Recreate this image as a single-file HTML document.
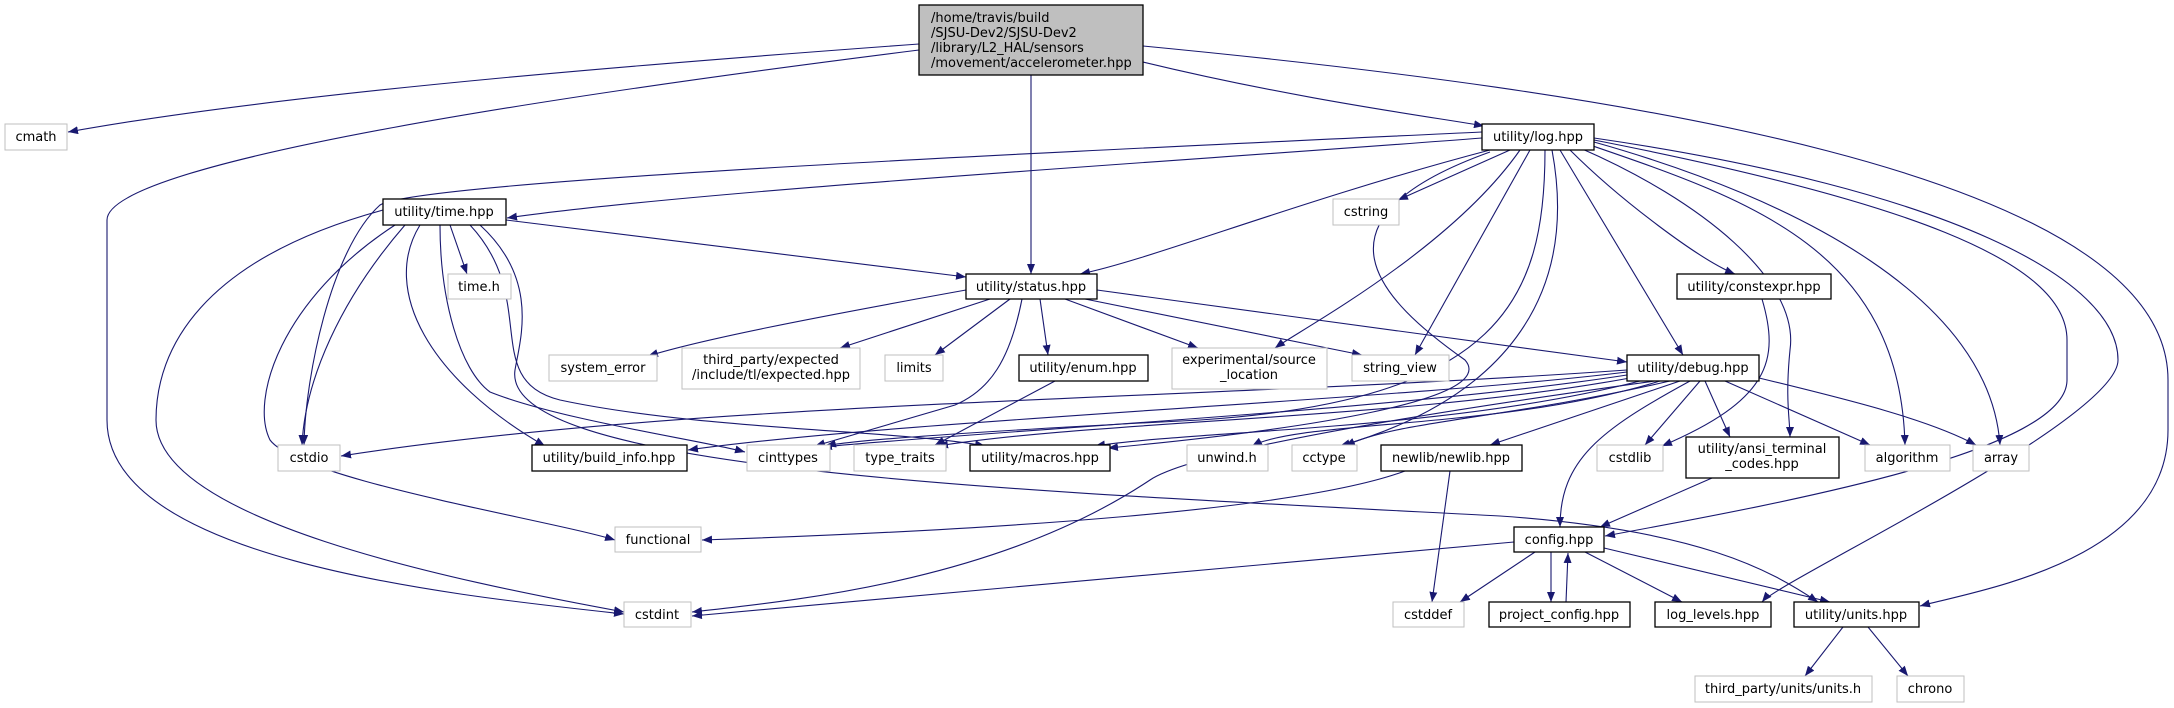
<!DOCTYPE html>
<html><head><meta charset="utf-8"><style>
html,body{margin:0;padding:0;background:#fff;}
svg{display:block;}
text{font-family:"DejaVu Sans","Liberation Sans",sans-serif;font-size:13px;fill:#000;}
.e{fill:none;stroke:#191970;stroke-width:1.1;marker-end:url(#a);}
.d{fill:#fff;stroke:#000;stroke-width:1.3;}
.x{fill:#fff;stroke:#bfbfbf;stroke-width:1;}
</style></head><body>
<svg width="2174" height="708" viewBox="0 0 2174 708" xmlns="http://www.w3.org/2000/svg">
<defs><marker id="a" markerWidth="10" markerHeight="8" refX="10" refY="4" orient="auto" markerUnits="userSpaceOnUse"><path d="M0,0 L10,4 L0,8 z" fill="#191970"/></marker></defs>
<g>
<path class="e" d="M919,44 C700,60 300,90 68,132"/>
<path class="e" d="M919,50 C600,90 107,160 107,220 L107,420 C107,560 450,595 624,614"/>
<path class="e" d="M1031,75 L1031,274"/>
<path class="e" d="M1143,62 C1300,100 1440,118 1484,126"/>
<path class="e" d="M1143,46 C1600,90 2168,170 2168,380 L2168,430 C2168,560 1980,590 1920,606"/>
<path class="e" d="M1482,138 C1200,160 700,190 507,218"/>
<path class="e" d="M1482,132 C1100,150 420,180 380,205 C330,250 305,380 304,445"/>
<path class="e" d="M1490,150 C1300,200 1150,260 1080,274"/>
<path class="e" d="M1510,150 L1398,200"/>
<path class="e" d="M1520,150 C1450,250 1300,330 1275,348"/>
<path class="e" d="M1530,150 L1415,355"/>
<path class="e" d="M1490,152 C1300,220 1380,300 1465,360 C1500,400 1300,430 1108,448"/>
<path class="e" d="M1545,150 C1545,300 1500,400 1200,420 C1000,430 850,440 826,446"/>
<path class="e" d="M1552,150 C1580,300 1500,400 1340,446"/>
<path class="e" d="M1560,150 L1683,355"/>
<path class="e" d="M1570,150 C1620,200 1700,260 1735,274"/>
<path class="e" d="M1580,148 C1700,200 1800,280 1790,350 C1785,400 1790,420 1790,437"/>
<path class="e" d="M1590,145 C1750,200 1900,250 1905,445"/>
<path class="e" d="M1594,142 C1800,200 1990,300 2000,445"/>
<path class="e" d="M1594,140 C1900,200 2067,260 2067,340 L2067,380 C2067,450 1800,500 1605,536"/>
<path class="e" d="M1594,138 C1950,190 2118,280 2118,360 C2118,420 1780,580 1762,602"/>
<path class="e" d="M1762,299 C1780,360 1770,400 1662,446"/>
<path class="e" d="M506,220 L966,277"/>
<path class="e" d="M450,225 L467,274"/>
<path class="e" d="M405,225 C340,300 305,380 302,445"/>
<path class="e" d="M383,210 C200,260 156,350 156,420 C156,520 450,580 624,612"/>
<path class="e" d="M395,225 C280,300 250,400 270,440 C300,480 550,520 615,540"/>
<path class="e" d="M420,225 C380,290 430,380 545,446"/>
<path class="e" d="M440,225 C440,300 460,370 490,392 C560,420 700,440 745,452"/>
<path class="e" d="M470,225 C540,300 480,380 560,400 C700,430 900,430 985,446"/>
<path class="e" d="M480,225 C540,280 520,340 515,370 C500,470 1000,490 1500,516 C1700,530 1770,570 1818,602"/>
<path class="e" d="M966,290 C800,320 700,340 648,356"/>
<path class="e" d="M990,299 L840,348"/>
<path class="e" d="M1010,299 L935,355"/>
<path class="e" d="M1022,299 C1010,360 990,390 955,405 L815,446"/>
<path class="e" d="M1040,299 L1048,355"/>
<path class="e" d="M1065,299 L1198,348"/>
<path class="e" d="M1085,299 L1362,355"/>
<path class="e" d="M1097,290 L1627,362"/>
<path class="e" d="M1055,381 L935,445"/>
<path class="e" d="M1627,370 C1200,400 700,400 341,456"/>
<path class="e" d="M1627,372 C1400,400 900,420 688,450"/>
<path class="e" d="M1627,375 C1400,410 1000,430 822,447"/>
<path class="e" d="M1630,378 C1400,420 1100,420 938,446"/>
<path class="e" d="M1640,381 C1450,430 1200,430 1095,446"/>
<path class="e" d="M1655,381 C1300,430 1180,460 1150,480 C1000,580 800,600 692,612"/>
<path class="e" d="M1514,542 L692,616"/>
<path class="e" d="M1660,381 C1500,430 1300,420 1252,446"/>
<path class="e" d="M1670,381 C1500,420 1400,420 1345,446"/>
<path class="e" d="M1680,381 L1490,445"/>
<path class="e" d="M1690,381 C1600,430 1560,460 1560,527"/>
<path class="e" d="M1700,381 L1645,445"/>
<path class="e" d="M1705,381 L1730,437"/>
<path class="e" d="M1725,381 L1870,445"/>
<path class="e" d="M1759,378 C1850,400 1930,420 1976,445"/>
<path class="e" d="M1405,471 C1300,510 1000,530 702,540"/>
<path class="e" d="M1450,471 L1432,602"/>
<path class="e" d="M1712,478 L1600,527"/>
<path class="e" d="M1535,552 L1460,602"/>
<path class="e" d="M1551,552 L1551,602"/>
<path class="e" d="M1566,602 L1568,553"/>
<path class="e" d="M1585,552 L1682,602"/>
<path class="e" d="M1604,548 L1830,602"/>
<path class="e" d="M1843,627 L1805,676"/>
<path class="e" d="M1868,627 L1908,676"/>
</g>
<g>
<rect x="919" y="5" width="224" height="70" fill="#bfbfbf" stroke="#000" stroke-width="1.3"/>
<text x="931" y="22">/home/travis/build</text>
<text x="931" y="37">/SJSU-Dev2/SJSU-Dev2</text>
<text x="931" y="52">/library/L2_HAL/sensors</text>
<text x="931" y="67">/movement/accelerometer.hpp</text>
</g>
<g text-anchor="middle">
<rect class="x" x="5" y="124" width="62" height="26"/><text x="36" y="141">cmath</text>
<rect class="d" x="383" y="199" width="123" height="26"/><text x="444" y="216">utility/time.hpp</text>
<rect class="x" x="448" y="274" width="63" height="25"/><text x="479" y="291">time.h</text>
<rect class="d" x="966" y="274" width="131" height="25"/><text x="1031" y="291">utility/status.hpp</text>
<rect class="d" x="1482" y="124" width="112" height="26"/><text x="1538" y="141">utility/log.hpp</text>
<rect class="x" x="1333" y="199" width="66" height="26"/><text x="1366" y="216">cstring</text>
<rect class="d" x="1677" y="274" width="154" height="25"/><text x="1754" y="291">utility/constexpr.hpp</text>
<rect class="x" x="549" y="355" width="108" height="26"/><text x="603" y="372">system_error</text>
<rect class="x" x="682" y="348" width="178" height="41"/><text x="771" y="364">third_party/expected</text><text x="771" y="379">/include/tl/expected.hpp</text>
<rect class="x" x="885" y="355" width="58" height="26"/><text x="914" y="372">limits</text>
<rect class="d" x="1019" y="355" width="129" height="26"/><text x="1083" y="372">utility/enum.hpp</text>
<rect class="x" x="1172" y="348" width="155" height="41"/><text x="1249" y="364">experimental/source</text><text x="1249" y="379">_location</text>
<rect class="x" x="1352" y="355" width="97" height="26"/><text x="1400" y="372">string_view</text>
<rect class="d" x="1627" y="355" width="132" height="26"/><text x="1693" y="372">utility/debug.hpp</text>
<rect class="x" x="278" y="445" width="62" height="26"/><text x="309" y="462">cstdio</text>
<rect class="d" x="532" y="445" width="155" height="26"/><text x="609" y="462">utility/build_info.hpp</text>
<rect class="x" x="747" y="445" width="83" height="26"/><text x="788" y="462">cinttypes</text>
<rect class="x" x="854" y="445" width="92" height="26"/><text x="900" y="462">type_traits</text>
<rect class="d" x="970" y="445" width="140" height="26"/><text x="1040" y="462">utility/macros.hpp</text>
<rect class="x" x="1187" y="445" width="81" height="26"/><text x="1227" y="462">unwind.h</text>
<rect class="x" x="1292" y="445" width="65" height="26"/><text x="1324" y="462">cctype</text>
<rect class="d" x="1381" y="445" width="141" height="26"/><text x="1451" y="462">newlib/newlib.hpp</text>
<rect class="x" x="1597" y="445" width="66" height="26"/><text x="1630" y="462">cstdlib</text>
<rect class="d" x="1686" y="437" width="153" height="41"/><text x="1762" y="453">utility/ansi_terminal</text><text x="1762" y="468">_codes.hpp</text>
<rect class="x" x="1865" y="445" width="85" height="26"/><text x="1907" y="462">algorithm</text>
<rect class="x" x="1973" y="445" width="56" height="26"/><text x="2001" y="462">array</text>
<rect class="x" x="615" y="527" width="86" height="25"/><text x="658" y="544">functional</text>
<rect class="d" x="1514" y="527" width="90" height="25"/><text x="1559" y="544">config.hpp</text>
<rect class="x" x="624" y="602" width="67" height="25"/><text x="657" y="619">cstdint</text>
<rect class="x" x="1393" y="602" width="71" height="25"/><text x="1428" y="619">cstddef</text>
<rect class="d" x="1489" y="602" width="141" height="25"/><text x="1559" y="619">project_config.hpp</text>
<rect class="d" x="1655" y="602" width="116" height="25"/><text x="1713" y="619">log_levels.hpp</text>
<rect class="d" x="1794" y="602" width="125" height="25"/><text x="1856" y="619">utility/units.hpp</text>
<rect class="x" x="1695" y="676" width="177" height="26"/><text x="1783" y="693">third_party/units/units.h</text>
<rect class="x" x="1897" y="676" width="67" height="26"/><text x="1930" y="693">chrono</text>
</g>
</svg>
</body></html>
